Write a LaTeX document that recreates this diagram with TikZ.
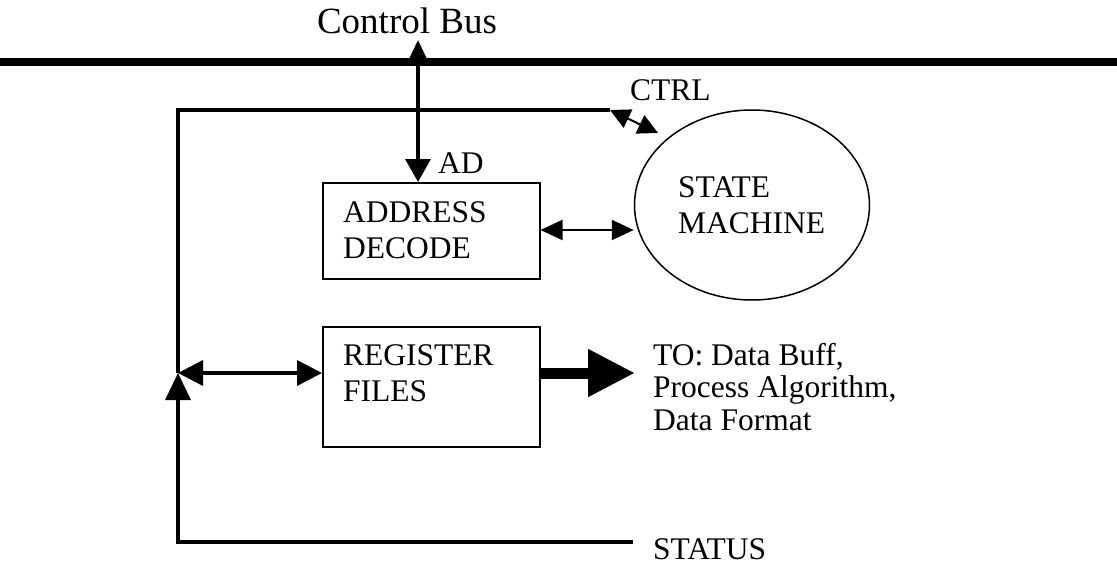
\documentclass[tikz,border=0pt]{standalone}
\usepackage{fontspec}
\setmainfont{Liberation Serif}
\usetikzlibrary{arrows.meta,shapes.geometric}
\begin{document}
\begin{tikzpicture}[x=1pt,y=-1pt,
  box/.style={draw,line width=1.5pt,inner sep=0pt,anchor=north west},
  lbl/.style={font=\fontsize{31.5}{36}\selectfont,anchor=base west,inner sep=0pt},
  wire/.style={line width=3.5pt},
  thin2/.style={line width=2pt}]
\useasboundingbox (0,0) rectangle (1117,570);
% bus
\coordinate (busL) at (0,62);
\coordinate (busR) at (1117,62);
\draw[line width=8pt] (busL) -- (busR);
\node[font=\fontsize{37}{42}\selectfont,anchor=base,inner sep=0pt] (cbus) at (407,33) {Control Bus};
% boxes
\node[box,minimum width=217pt,minimum height=96pt] (ad) at (322,182) {};
\node[box,minimum width=217pt,minimum height=120pt] (rf) at (322,326) {};
\node[draw,ellipse,line width=1.5pt,minimum width=235pt,minimum height=190pt,inner sep=0pt] (sm) at (752,205) {};
% texts
\node[lbl] (t1) at (343,222) {ADDRESS};
\node[lbl] (t2) at (343,258) {DECODE};
\node[lbl] (t3) at (343,365) {REGISTER};
\node[lbl] (t4) at (343,401) {FILES};
\node[lbl] (t5) at (678,197) {STATE};
\node[lbl] (t6) at (678,233) {MACHINE};
\node[lbl] (adl) at (438,173) {AD};
\node[lbl] (ctrl) at (630,100) {CTRL};
\node[lbl] (to1) at (653,365) {TO: Data Buff,};
\node[lbl] (to2) at (653,397) {Process Algorithm,};
\node[lbl] (to3) at (653,430) {Data Format};
\node[lbl] (st) at (653,559) {STATUS};
% vertical bus connection
\coordinate (busj) at (418,40);
\draw[wire,{Triangle[width=18pt,length=20pt]}-{Triangle[width=25pt,length=23pt]}] (busj) -- (ad.north -| busj);
% frame
\coordinate (ftop) at (178,110);
\coordinate (fend) at (610,110);
\coordinate (fj) at (178,373);
\coordinate (fbot) at (178,542);
\coordinate (sEnd) at (633,542);
\draw[wire] (fend) -- (ftop) -- (fj);
\draw[wire,-{Triangle[width=25pt,length=27pt]}] (sEnd) -- (fbot) -- (fj);
% ctrl arrow
\coordinate (smc) at (658,133);
\draw[thin2,{Triangle[width=20pt,length=20pt]}-{Triangle[width=20pt,length=20pt]}] (fend) -- (smc);
% AD <-> SM
\draw[thin2,{Triangle[width=20pt,length=22pt]}-{Triangle[width=20pt,length=22pt]}] (ad.east |- 0,230) -- (sm.west |- 0,230);
% RF <-> frame
\draw[wire,{Triangle[width=25pt,length=25pt]}-{Triangle[width=25pt,length=25pt]}] (fj) -- (rf.west |- fj);
% thick out arrow
\coordinate (outT) at (635,373);
\draw[line width=11pt,-{Triangle[width=45pt,length=47pt]}] (rf.east |- outT) -- (outT);
\end{tikzpicture}
\end{document}
